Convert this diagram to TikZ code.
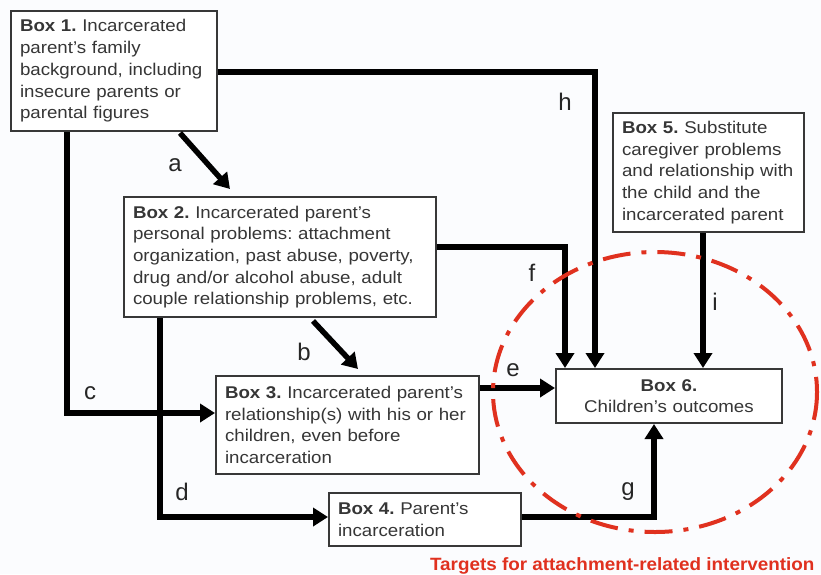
\documentclass[tikz,border=0pt]{standalone}
\usepackage{fontspec}
\setmainfont{Liberation Sans}
\newfontfamily\boxfont{Liberation Sans}[FakeStretch=1.1]
\newfontfamily\redfont{Liberation Sans}[FakeStretch=1.06]
\usetikzlibrary{arrows.meta,calc}
\definecolor{txt}{HTML}{363636}
\definecolor{tred}{HTML}{E0311F}
\definecolor{bg}{HTML}{FBFCFE}
\frenchspacing
\begin{document}
\begin{tikzpicture}[x=1pt,y=-1pt,
 box/.style={draw=black!78, line width=2pt, fill=white, anchor=north west,
   inner xsep=9pt, inner ysep=0pt, align=left,
   font=\boxfont\fontsize{17}{21.7}\selectfont, text=txt},
 arr/.style={line width=5.5pt, line join=miter, -{Triangle[length=15pt,width=18pt]}},
 lab/.style={font=\fontsize{24}{24}\selectfont, text=black!85},
 target/.style={draw=tred, line width=4pt, dash pattern=on 28pt off 11pt on 5pt off 11pt}
]
\fill[bg] (0,0) rectangle (821,574);
\useasboundingbox (0,0) rectangle (821,574);

% boxes
\node[box, text width=188pt, minimum height=120pt] (b1) at (10,10)
  {\textbf{Box 1.} Incarcerated\\ parent’s family\\ background, including\\ insecure parents or\\ parental figures};
\node[box, text width=294pt, minimum height=120pt] (b2) at (123,196)
  {\textbf{Box 2.} Incarcerated parent’s\\ personal problems: attachment\\ organization, past abuse, poverty,\\ drug and/or alcohol abuse, adult\\ couple relationship problems, etc.};
\node[box, text width=245pt, minimum height=98pt] (b3) at (215,375)
  {\textbf{Box 3.} Incarcerated parent’s\\ relationship(s) with his or her\\ children, even before\\ incarceration};
\node[box, text width=174pt, minimum height=53pt] (b4) at (328,492)
  {\textbf{Box 4.} Parent’s\\ incarceration};
\node[box, text width=173pt, minimum height=119pt] (b5) at (612,112)
  {\textbf{Box 5.} Substitute\\ caregiver problems\\ and relationship with\\ the child and the\\ incarcerated parent};
\node[box, text width=208pt, minimum height=54pt, align=center] (b6) at (555,368)
  {\textbf{Box 6.}\\ Children’s outcomes};

% helper coordinates
\coordinate (hy) at (0,72);
\coordinate (hx) at (595,0);
\coordinate (a1) at (180,133);
\coordinate (a2) at (230,189);
\coordinate (bb1) at (313,321);
\coordinate (bb2) at (358,369);
\coordinate (cx) at (67,0);
\coordinate (cy) at (0,413);
\coordinate (dx) at (160,0);
\coordinate (dy) at (0,517);
\coordinate (ey) at (0,388);
\coordinate (fy) at (0,247);
\coordinate (fx) at (565,0);
\coordinate (gx) at (654,0);
\coordinate (ix) at (703,0);

% connectors
\draw[arr] (b1.east |- hy) -| (b6.north -| hx);
\draw[arr] (a1) -- (a2);
\draw[arr] (bb1) -- (bb2);
\draw[arr] (b1.south -| cx) |- (b3.west |- cy);
\draw[arr] (b2.south -| dx) |- (b4.west |- dy);
\draw[arr] (b3.east |- ey) -- (b6.west |- ey);
\draw[arr] (b2.east |- fy) -| (b6.north -| fx);
\draw[arr] (b4.east |- dy) -| (b6.south -| gx);
\draw[arr] (b5.south -| ix) -- (b6.north -| ix);

% labels
\node[lab] (la) at (175,165) {a};
\node[lab] (lb) at (304,352) {b};
\node[lab] (lc) at (90,393) {c};
\node[lab] (ld) at (182,492) {d};
\node[lab] (le) at (513,370) {e};
\node[lab] (lf) at (532,273) {f};
\node[lab] (lg) at (628,492) {g};
\node[lab] (lh) at (565,102) {h};
\node[lab] (li) at (715,302) {i};

% target region
\draw[target] (655,392) ellipse [x radius=162, y radius=140];
\node[anchor=base east, text=tred, font=\redfont\bfseries\fontsize{17.8}{18}\selectfont] (tt) at (818,570)
  {Targets for attachment-related intervention};
\end{tikzpicture}
\end{document}
